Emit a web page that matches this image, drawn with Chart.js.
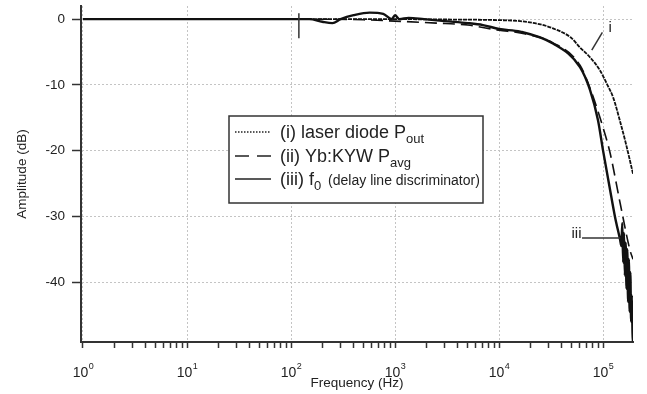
<!DOCTYPE html>
<html>
<head>
<meta charset="utf-8">
<script src="https://cdn.jsdelivr.net/npm/chart.js@4.4.0/dist/chart.umd.min.js"></script>
<style>
  html, body { margin: 0; padding: 0; background: #fff; }
</style>
</head>
<body>
<canvas id="myChart" width="647" height="394"></canvas>
<script>
const FONT = '"Liberation Sans", Arial, Helvetica, sans-serif';

// (i) laser diode Pout - dotted, upper curve
let freqI = [1, 10, 100, 1000, 3000, 10000, 16000, 25000, 33000, 49000, 60000, 75000, 93500, 110000, 125000, 146000, 165000, 194000];
let ampI = [0, 0, 0, 0, -0.05, -0.15, -0.3, -0.8, -1.4, -2.8, -4.3, -5.8, -7.8, -10, -11.9, -15.6, -18.8, -23.5];

// (ii) Yb:KYW Pavg - dashed
let freqII = [1, 100, 500, 1000, 2500, 5000, 10000, 16000, 33000, 60000, 77000, 100000, 117000, 146000, 182000, 194000];
let ampII = [0, 0, -0.1, -0.3, -0.6, -0.9, -1.7, -2.1, -3.6, -7.0, -11.0, -16.5, -20.4, -28, -35.2, -36.5];

// (iii) f0 delay line discriminator - solid, noisy
let freqIII = [1, 20, 60, 100, 150, 200, 250, 300, 400, 570, 770, 930, 1000, 1100, 1350, 1900, 3000, 5000, 7000, 10000, 16000, 33000, 60000, 75000, 89500, 100000, 115700, 130000, 146000,
    150000, 153000, 156000, 159000, 162000, 165000, 168000, 171000, 174000, 177000, 180000, 183000, 186000, 189000, 192000, 194000];
let ampIII = [0, 0, 0, 0, 0, -0.4, -0.6, 0, 0.6, 1.0, 0.8, 0, 0.6, 0, 0.2, 0, -0.3, -0.6, -0.9, -1.5, -1.9, -3.7, -7.3, -10.8, -15.4, -20, -25.6, -30, -33.6,
    -34.5, -31, -37, -32.5, -39, -34, -41, -35, -43, -36.5, -44.5, -38.5, -46, -42, -47.8, -49];

let seriesLabels = ["(i) laser diode Pout", "(ii) Yb:KYW Pavg", "(iii) f0 (delay line discriminator)"];

let yTicks = [0, -10, -20, -30, -40];
let decades = [0, 1, 2, 3, 4, 5];
let minorSteps = [1, 2, 3, 4, 5, 6, 7, 8, 9];

// curve labels: text, frequency, dB
let curveMarks = [
    { text: "i", f: 117000, db: -2.0, align: "center", from: [77900, -4.7], to: [98500, -2.0] },
    { text: "iii", f: 62000, db: -33.3, align: "right", from: [62800, -33.3], to: [146000, -33.3] }
];
let cursorMark = { f: 119, top: 0.9, bottom: -2.9 };

function toPoints(xs, ys) {
    return xs.map(function (x, i) { return { x: x, y: ys[i] }; });
}

function isDecade(v) {
    let l = Math.log10(v);
    return Math.abs(l - Math.round(l)) < 1e-6;
}

let xTickVals = [];
decades.forEach(function (d) {
    minorSteps.forEach(function (m) { xTickVals.push(m * Math.pow(10, d)); });
});

// legend + superscript tick labels + curve labels
let overlay = {
    id: 'overlay',
    afterDraw(chart) {
        let ctx = chart.ctx;
        let xs = chart.scales.x, ys = chart.scales.y;
        let bottom = chart.chartArea.bottom;
        ctx.save();
        ctx.fillStyle = '#222';
        ctx.textBaseline = 'alphabetic';

        // 10^n labels
        decades.forEach(function (d) {
            let px = xs.getPixelForValue(Math.pow(10, d));
            ctx.font = '14px ' + FONT;
            let w1 = ctx.measureText('10').width;
            ctx.font = '9px ' + FONT;
            let w2 = ctx.measureText(String(d)).width;
            let left = px - (w1 + w2) / 2;
            ctx.textAlign = 'left';
            ctx.font = '14px ' + FONT;
            ctx.fillText('10', left, bottom + 35);
            ctx.font = '9px ' + FONT;
            ctx.fillText(String(d), left + w1 + 0.5, bottom + 27);
        });

        // cursor tick near 100 Hz
        ctx.strokeStyle = '#333';
        ctx.lineWidth = 1.5;
        ctx.beginPath();
        let cx = xs.getPixelForValue(cursorMark.f);
        ctx.moveTo(cx, ys.getPixelForValue(cursorMark.top));
        ctx.lineTo(cx, ys.getPixelForValue(cursorMark.bottom));
        ctx.stroke();

        // curve labels
        curveMarks.forEach(function (m) {
            ctx.beginPath();
            ctx.lineWidth = 1.5;
            ctx.moveTo(xs.getPixelForValue(m.from[0]), ys.getPixelForValue(m.from[1]));
            ctx.lineTo(xs.getPixelForValue(m.to[0]), ys.getPixelForValue(m.to[1]));
            ctx.stroke();
            ctx.font = '15px ' + FONT;
            ctx.textAlign = m.align;
            ctx.fillText(m.text, xs.getPixelForValue(m.f), ys.getPixelForValue(m.db));
        });

        // legend box
        ctx.fillStyle = '#fff';
        ctx.fillRect(229, 116, 254, 87);
        ctx.strokeStyle = '#333';
        ctx.lineWidth = 1.5;
        ctx.strokeRect(229, 116, 254, 87);

        let rows = [
            { y: 138, main: '(i) laser diode P', sub: 'out', rest: '', dash: [1.5, 1.5] },
            { y: 162, main: '(ii) Yb:KYW P', sub: 'avg', rest: '', dash: [14, 8] },
            { y: 185, main: '(iii) f', sub: '0', rest: ' (delay line discriminator)', dash: [] }
        ];
        rows.forEach(function (r) {
            ctx.strokeStyle = '#222';
            ctx.lineWidth = 1.5;
            ctx.setLineDash(r.dash);
            ctx.beginPath();
            ctx.moveTo(235, r.y - 6);
            ctx.lineTo(271, r.y - 6);
            ctx.stroke();
            ctx.setLineDash([]);
            ctx.fillStyle = '#222';
            ctx.textAlign = 'left';
            ctx.font = '18px ' + FONT;
            ctx.fillText(r.main, 280, r.y);
            let x = 280 + ctx.measureText(r.main).width;
            ctx.font = '13px ' + FONT;
            ctx.fillText(r.sub, x, r.y + 5);
            x += ctx.measureText(r.sub).width;
            if (r.rest) {
                ctx.font = '14px ' + FONT;
                ctx.fillText(r.rest, x + 3, r.y);
            }
        });
        ctx.restore();
    }
};

Chart.defaults.font.family = FONT;

let ctx = document.getElementById('myChart');
let myChart = new Chart(ctx, {
    type: 'line',
    data: {
        datasets: [{
            label: seriesLabels[0],
            data: toPoints(freqI, ampI),
            borderColor: '#111',
            borderWidth: 1.8,
            borderDash: [4, 1],
            pointRadius: 0,
            cubicInterpolationMode: 'monotone'
        }, {
            label: seriesLabels[1],
            data: toPoints(freqII, ampII),
            borderColor: '#111',
            borderWidth: 1.6,
            borderDash: [12, 6],
            pointRadius: 0,
            cubicInterpolationMode: 'monotone'
        }, {
            label: seriesLabels[2],
            data: toPoints(freqIII, ampIII),
            borderColor: '#111',
            borderWidth: 2.4,
            pointRadius: 0,
            cubicInterpolationMode: 'monotone'
        }]
    },
    options: {
        responsive: false,
        animation: false,
        devicePixelRatio: 1,
        layout: { padding: { left: 0, top: 6, right: 14, bottom: 0 } },
        plugins: {
            legend: { display: false },
            tooltip: { enabled: false }
        },
        scales: {
            x: {
                type: 'logarithmic',
                min: 0.957,
                max: 194000,
                afterBuildTicks: function (s) {
                    s.ticks = xTickVals.filter(function (v) { return v >= s.min && v <= s.max; })
                        .map(function (v) { return { value: v, major: isDecade(v) }; });
                },
                afterFit: function (s) { s.height = 52; s.paddingLeft = 0; s.paddingRight = 0; },
                ticks: { display: false },
                grid: {
                    color: function (c) { return c.tick && isDecade(c.tick.value) ? '#c4c4c4' : 'rgba(0,0,0,0)'; },
                    lineWidth: 1,
                    tickLength: 6,
                    tickColor: '#333',
                    tickWidth: 1.5
                },
                border: { color: '#333', width: 2, dash: [2, 2] },
                title: {
                    display: true,
                    text: 'Frequency (Hz)',
                    color: '#222',
                    font: { size: 13.5 },
                    padding: { top: 0, bottom: 3 }
                }
            },
            y: {
                type: 'linear',
                min: -49.1,
                max: 2,
                afterBuildTicks: function (s) {
                    s.ticks = yTicks.map(function (v) { return { value: v }; });
                },
                afterFit: function (s) { s.width = 81; s.paddingTop = 0; s.paddingBottom = 0; },
                ticks: {
                    color: '#222',
                    font: { size: 13.5 },
                    padding: 7,
                    callback: function (v) { return String(v); }
                },
                grid: {
                    color: '#c4c4c4',
                    lineWidth: 1,
                    tickLength: 9,
                    tickColor: '#333',
                    tickWidth: 1.5
                },
                border: { color: '#333', width: 2, dash: [2, 2] },
                title: {
                    display: true,
                    text: 'Amplitude (dB)',
                    color: '#222',
                    font: { size: 13.5 },
                    padding: { top: 14, bottom: 0 }
                }
            }
        }
    },
    plugins: [overlay]
});
</script>
</body>
</html>
